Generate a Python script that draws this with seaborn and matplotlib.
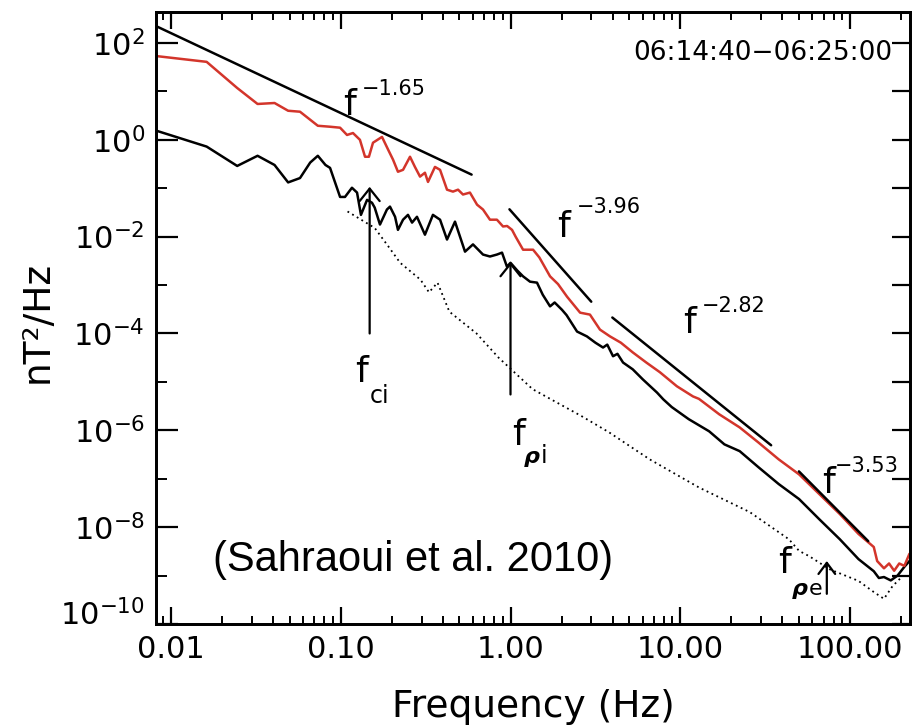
import numpy as np
import pandas as pd
import matplotlib
matplotlib.use("Agg")
import matplotlib.pyplot as plt
import matplotlib.transforms as mtransforms
import seaborn as sns
from matplotlib.ticker import FixedLocator, FixedFormatter, NullFormatter, LogLocator

# ---------------- data (log10 of frequency [Hz] and power [nT^2/Hz]) ----------------
red_logf = [-2.088, -1.79, -1.61, -1.49, -1.39, -1.31, -1.24, -1.135, -1.063, -1.004, -0.963,
            -0.928, -0.887, -0.857, -0.834, -0.81, -0.757, -0.72, -0.692, -0.663, -0.633,
            -0.592, -0.563, -0.533, -0.504, -0.486, -0.445, -0.415, -0.374, -0.339, -0.309,
            -0.28, -0.239, -0.197, -0.162, -0.121, -0.08, -0.044, -0.02, 0.009, 0.03, 0.074,
            0.133, 0.17, 0.233, 0.28, 0.333, 0.41, 0.468, 0.527, 0.586, 0.65, 0.72, 0.80,
            0.88, 0.98, 1.075, 1.11, 1.23, 1.35, 1.46, 1.58, 1.70, 1.82, 1.94, 2.05, 2.14,
            2.16, 2.20, 2.23, 2.26, 2.29, 2.32, 2.35]
red_logp = [1.73, 1.61, 1.07, 0.74, 0.76, 0.60, 0.58, 0.29, 0.27, 0.25, 0.10,
            0.14, 0.0, -0.35, -0.35, -0.06, 0.06, -0.21, -0.41, -0.66, -0.62,
            -0.35, -0.56, -0.76, -0.68, -0.87, -0.56, -0.62, -1.03, -1.07, -1.03,
            -1.13, -1.09, -1.34, -1.44, -1.65, -1.65, -1.79, -1.78, -1.86, -2.00, -2.27,
            -2.27, -2.43, -2.82, -2.98, -3.24, -3.57, -3.61, -3.92, -4.06, -4.19, -4.39, -4.60,
            -4.80, -5.09, -5.30, -5.35, -5.67, -5.94, -6.25, -6.60, -6.91, -7.32, -7.73, -8.14, -8.41,
            -8.70, -8.85, -8.75, -8.90, -8.75, -8.80, -8.55]

black_logf = [-2.088, -1.79, -1.61, -1.49, -1.39, -1.31, -1.24, -1.18, -1.135, -1.09, -1.063,
              -1.004, -0.975, -0.934, -0.904, -0.881, -0.845, -0.816, -0.80, -0.769, -0.728,
              -0.710, -0.680, -0.663, -0.633, -0.604, -0.580, -0.551, -0.504, -0.457, -0.415,
              -0.374, -0.327, -0.268, -0.221, -0.162, -0.121, -0.080, -0.050, -0.021, 0.0,
              0.04, 0.074, 0.115, 0.156, 0.19, 0.233, 0.26, 0.303, 0.33, 0.392, 0.45, 0.50,
              0.545, 0.57, 0.604, 0.63, 0.663, 0.72, 0.78, 0.863, 0.90, 0.95, 1.05, 1.17,
              1.26, 1.35, 1.46, 1.58, 1.70, 1.82, 1.94, 2.05, 2.14, 2.17, 2.20, 2.24, 2.28,
              2.32, 2.35]
black_logp = [0.19, -0.14, -0.54, -0.33, -0.52, -0.88, -0.79, -0.47, -0.33, -0.52, -0.58,
              -1.18, -1.18, -0.99, -1.09, -1.55, -1.24, -1.30, -1.40, -1.75, -1.44,
              -1.38, -1.59, -1.86, -1.65, -1.55, -1.71, -1.59, -1.96, -1.55, -1.65,
              -2.06, -1.69, -2.31, -2.16, -2.37, -2.41, -2.37, -2.33, -2.62, -2.54,
              -2.70, -2.82, -2.93, -2.95, -3.20, -3.44, -3.36, -3.51, -3.62, -3.96, -4.06, -4.19,
              -4.29, -4.23, -4.47, -4.42, -4.60, -4.74, -4.95, -5.22, -5.36, -5.52, -5.77, -6.02,
              -6.29, -6.43, -6.76, -7.11, -7.42, -7.84, -8.25, -8.66, -8.91, -9.05, -9.03, -9.10, -9.00,
              -8.82, -8.70]

dot_logf = [-0.96, -0.88, -0.80, -0.72, -0.65, -0.53, -0.48, -0.43, -0.36, -0.20, -0.07,
            0.13, 0.42, 0.58, 0.82, 1.11, 1.41, 1.64, 1.70, 1.76, 1.88, 2.05, 2.14, 2.20,
            2.25, 2.31]
dot_logp = [-1.48, -1.65, -1.82, -2.20, -2.54, -2.89, -3.15, -2.95, -3.55, -4.00, -4.50,
            -5.15, -5.71, -6.04, -6.60, -7.18, -7.69, -8.25, -8.49, -8.60, -8.87, -9.11, -9.34, -9.48,
            -9.22, -9.01]

# power-law fits: slope, amplitude at 1 Hz, frequency range
fit_slopes = [-1.65, -3.96, -2.82, -3.53]
fit_amp_1hz = [0.080, 0.0347, 0.0105, 0.141]
fit_fmin = [0.00816, 0.986, 3.98, 50.0]
fit_fmax = [0.59, 2.99, 34.3, 128.0]
fit_labels = ["\u22121.65", "\u22123.96", "\u22122.82", "\u22123.53"]

# characteristic-frequency arrows
arrow_freq = [0.148, 1.0, 73.0]
arrow_low = [1.0e-4, 5.5e-6, 4.2e-10]
arrow_high = [0.107, 3.0e-3, 2.0e-9]

x_tick_vals = [0.01, 0.1, 1.0, 10.0, 100.0]
x_tick_labels = ["0.01", "0.10", "1.00", "10.00", "100.00"]
y_tick_vals = [1e2, 1e0, 1e-2, 1e-4, 1e-6, 1e-8, 1e-10]
y_tick_labels = [r"$10^{2}$", r"$10^{0}$", r"$10^{-2}$", r"$10^{-4}$", r"$10^{-6}$",
                 r"$10^{-8}$", r"$10^{-10}$"]
y_minor_vals = [1e1, 1e-1, 1e-3, 1e-5, 1e-7, 1e-9]

# ---------------- figure ----------------
sns.set_theme(style="ticks")
plt.rcParams['font.family'] = ['DejaVu Sans']
plt.rcParams['mathtext.fontset'] = 'dejavusans'
plt.rcParams['text.color'] = 'black'
plt.rcParams['axes.labelcolor'] = 'black'
plt.rcParams['xtick.color'] = 'black'
plt.rcParams['ytick.color'] = 'black'

W, H = 914, 728
fig = plt.figure(figsize=(W / 100, H / 100), dpi=100)
fig.patch.set_facecolor("white")
L, R, T, B = 156, 910, 12, 624
ax = fig.add_axes([L / W, 1 - B / H, (R - L) / W, (B - T) / H])
ax.set_facecolor("white")


def fx(px):
    return px / W


def fy(py):
    return 1 - py / H


red_df = pd.DataFrame({"f": np.power(10.0, red_logf), "p": np.power(10.0, red_logp)})
blk_df = pd.DataFrame({"f": np.power(10.0, black_logf), "p": np.power(10.0, black_logp)})
dot_df = pd.DataFrame({"f": np.power(10.0, dot_logf), "p": np.power(10.0, dot_logp)})

sns.lineplot(data=dot_df, x="f", y="p", ax=ax, color="black", lw=1.3,
             linestyle=(0, (1, 2)), estimator=None, sort=False)
sns.lineplot(data=blk_df, x="f", y="p", ax=ax, color="black", lw=1.8,
             estimator=None, sort=False)
sns.lineplot(data=red_df, x="f", y="p", ax=ax, color="#d3352b", lw=1.8,
             estimator=None, sort=False)

for s, a, f0, f1 in zip(fit_slopes, fit_amp_1hz, fit_fmin, fit_fmax):
    fr = np.array([f0, f1])
    seg = pd.DataFrame({"f": fr, "p": a * fr ** s})
    sns.lineplot(data=seg, x="f", y="p", ax=ax, color="black", lw=1.8,
                 estimator=None, sort=False)

ax.set_xscale("log")
ax.set_yscale("log")
ax.set_xlim(0.00816, 225.6)
ax.set_ylim(1e-10, 436)

# arrows
head_specs = ["->,head_length=0.45,head_width=0.36", "->,head_length=0.45,head_width=0.36",
              "->,head_length=0.4,head_width=0.3"]
for f, lo, hi, hs in zip(arrow_freq, arrow_low, arrow_high, head_specs):
    ax.annotate("", xy=(f, hi), xytext=(f, lo),
                arrowprops=dict(arrowstyle=hs, lw=1.6, color="black",
                                mutation_scale=20, shrinkA=0, shrinkB=0))

# ticks (bottom-most y label drawn separately, slightly lifted above the frame corner)
ax.xaxis.set_major_locator(FixedLocator(x_tick_vals))
ax.xaxis.set_major_formatter(FixedFormatter(x_tick_labels))
ax.xaxis.set_minor_locator(LogLocator(base=10, subs=np.arange(2, 10)))
ax.xaxis.set_minor_formatter(NullFormatter())
ax.yaxis.set_major_locator(FixedLocator(y_tick_vals))
ax.yaxis.set_major_formatter(FixedFormatter(y_tick_labels[:-1] + [""]))
ax.yaxis.set_minor_locator(FixedLocator(y_minor_vals))
ax.yaxis.set_minor_formatter(NullFormatter())

ax.tick_params(axis="x", which="both", direction="in", top=True, bottom=True,
               labelsize=22, pad=8, color="black", labelcolor="black")
ax.tick_params(axis="x", which="major", length=12, width=1.6)
ax.tick_params(axis="x", which="minor", length=6, width=1.4)
ax.tick_params(axis="y", which="both", direction="in", left=True, right=False,
               labelsize=22, pad=8, color="black", labelcolor="black")
ax.tick_params(axis="y", which="major", length=16, width=1.6)
ax.tick_params(axis="y", which="minor", length=8, width=1.4)
ax.set_xlabel("")
ax.set_ylabel("")

low_tr = ax.get_yaxis_transform() + mtransforms.ScaledTranslation(
    -8 / 72, 12 / 100, fig.dpi_scale_trans)
ax.text(0, y_tick_vals[-1], y_tick_labels[-1], transform=low_tr, fontsize=22,
        ha="right", va="center_baseline", color="black")

# right-hand ticks (all decades same length)
ax2 = ax.twinx()
ax2.set_yscale("log")
ax2.set_ylim(ax.get_ylim())
ax2.yaxis.set_major_locator(FixedLocator(y_tick_vals + y_minor_vals))
ax2.yaxis.set_major_formatter(NullFormatter())
ax2.yaxis.set_minor_locator(FixedLocator([]))
ax2.tick_params(axis="y", which="major", direction="in", length=13, width=1.6,
                color="black", right=True, left=False)
for a in (ax, ax2):
    for sp in a.spines.values():
        sp.set_visible(True)
        sp.set_linewidth(2.0)
        sp.set_color("black")

# axis labels
fig.text(fx(533), fy(717), "Frequency (Hz)", fontsize=27, ha="center", va="baseline",
         color="black")
fig.text(fx(48), fy(322), "nT\u00b2/Hz", fontsize=27, ha="center", va="baseline",
         rotation=90, rotation_mode="anchor", color="black")

# time interval
fig.text(fx(892), fy(60), "06:14:40\u221206:25:00", fontsize=19, ha="right", va="baseline",
         color="black")

# reference
fig.text(fx(213), fy(571), "(Sahraoui et al. 2010)", fontsize=30, ha="left", va="baseline",
         family=["Liberation Sans", "DejaVu Sans"], color="black")

# fit labels: 'f' base and exponent
f_pos = [(343, 115), (557, 237), (683, 333), (822, 493)]
e_pos = [(362, 95), (577, 213), (702, 312), (835, 472)]
for (xf, yf), (xe, ye), lab in zip(f_pos, e_pos, fit_labels):
    fig.text(fx(xf), fy(yf), "f", fontsize=26, ha="left", va="baseline", color="black")
    fig.text(fx(xe), fy(ye), lab, fontsize=15, ha="left", va="baseline", color="black")

# characteristic frequency labels
fig.text(fx(355), fy(382), "f", fontsize=26, ha="left", va="baseline", color="black")
fig.text(fx(370), fy(403), "ci", fontsize=17, ha="left", va="baseline", color="black")

fig.text(fx(512), fy(445), "f", fontsize=26, ha="left", va="baseline", color="black")
fig.text(fx(524), fy(463), "\u03c1", fontsize=16, ha="left", va="baseline",
         fontweight="bold", fontstyle="italic", color="black")
fig.text(fx(541), fy(463), "i", fontsize=17, ha="left", va="baseline", color="black")

fig.text(fx(778), fy(573), "f", fontsize=26, ha="left", va="baseline", color="black")
fig.text(fx(792), fy(595), "\u03c1", fontsize=16, ha="left", va="baseline",
         fontweight="bold", fontstyle="italic", color="black")
fig.text(fx(809), fy(595), "e", fontsize=16, ha="left", va="baseline", color="black")

fig.savefig("out.png", dpi=100, facecolor="white")
